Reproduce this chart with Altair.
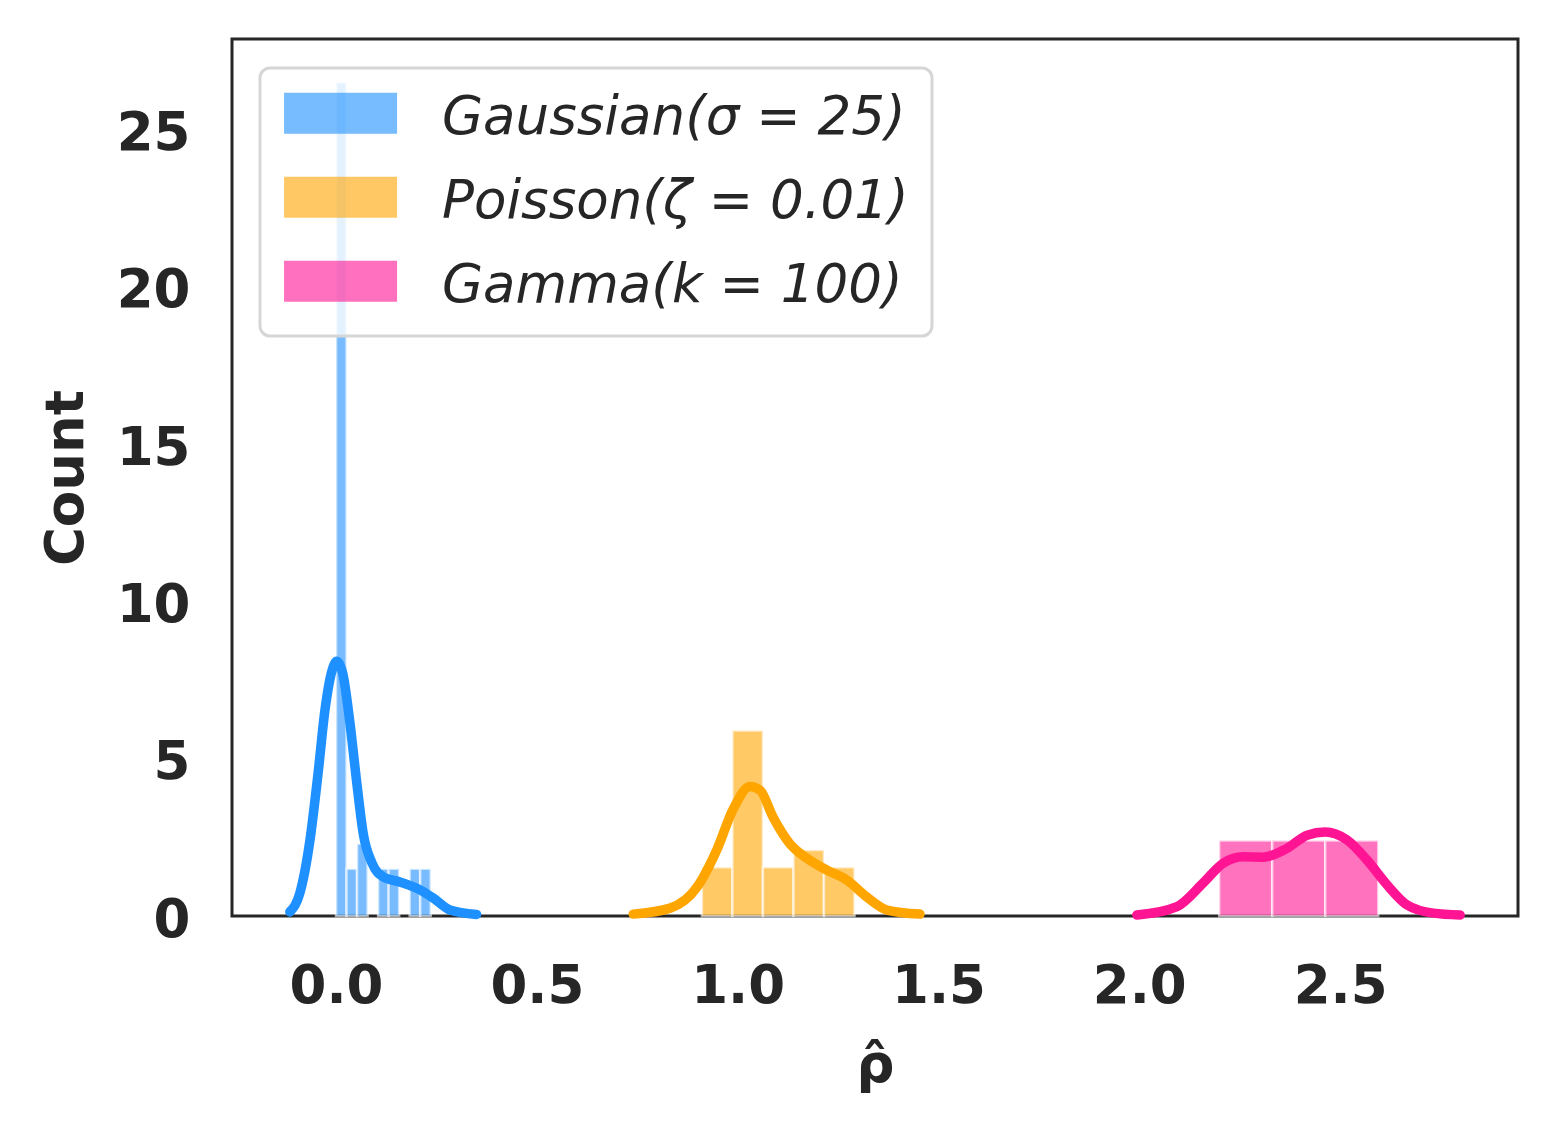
import altair as alt
import pandas as pd

series_names = ["Gaussian(σ = 25)", "Poisson(ζ = 0.01)", "Gamma(k = 100)"]
series_colors = ["#1E90FF", "#FFA500", "#FF1493"]

# Histogram bins (left/right edges) and counts
gauss_lo = [0.0, 0.0262, 0.0524, 0.0786, 0.1048, 0.1310, 0.1572, 0.1834, 0.2096]
gauss_hi = [0.0262, 0.0524, 0.0786, 0.1048, 0.1310, 0.1572, 0.1834, 0.2096, 0.2358]
gauss_cnt = [26.5, 1.5, 2.3, 0.0, 1.5, 1.5, 0.0, 1.5, 1.5]

pois_lo = [0.911, 0.987, 1.063, 1.139, 1.215]
pois_hi = [0.987, 1.063, 1.139, 1.215, 1.291]
pois_cnt = [1.55, 5.9, 1.55, 2.1, 1.55]

gamma_lo = [2.199, 2.331, 2.463]
gamma_hi = [2.331, 2.463, 2.595]
gamma_cnt = [2.4, 2.4, 2.4]

# KDE curves
gauss_kx = [-0.115, -0.09, -0.065, -0.045, -0.027, -0.01, 0.002, 0.017, 0.035, 0.052,
            0.068, 0.089, 0.118, 0.159, 0.209, 0.242, 0.284, 0.35]
gauss_ky = [0.13, 0.73, 2.4, 4.5, 6.6, 7.8, 8.1, 7.7, 6.1, 4.2,
            2.6, 1.7, 1.24, 1.08, 0.83, 0.57, 0.19, 0.05]

pois_kx = [0.74, 0.832, 0.899, 0.948, 0.989, 1.031, 1.056, 1.088, 1.130, 1.172,
           1.222, 1.272, 1.322, 1.372, 1.454]
pois_ky = [0.06, 0.25, 0.92, 2.1, 3.4, 4.12, 4.0, 3.15, 2.3, 1.84,
           1.46, 1.14, 0.6, 0.19, 0.06]

gamma_kx = [1.994, 2.094, 2.159, 2.209, 2.259, 2.309, 2.368, 2.418, 2.463, 2.517,
            2.567, 2.617, 2.667, 2.732, 2.799]
gamma_ky = [0.03, 0.3, 1.05, 1.68, 1.88, 1.87, 2.15, 2.57, 2.67, 2.42,
            1.78, 0.99, 0.35, 0.09, 0.03]

x_ticks = [0.0, 0.5, 1.0, 1.5, 2.0, 2.5]
y_ticks = [0, 5, 10, 15, 20, 25]
x_domain = [-0.259, 2.943]
y_domain = [0, 27.88]

bars = []
for name, lo, hi, cnt in zip(series_names, [gauss_lo, pois_lo, gamma_lo],
                             [gauss_hi, pois_hi, gamma_hi], [gauss_cnt, pois_cnt, gamma_cnt]):
    for a, b, c in zip(lo, hi, cnt):
        if c > 0:
            bars.append({"series": name, "x0": a, "x1": b, "count": c})
bars_df = pd.DataFrame(bars)

kde = []
for name, xs, ys in zip(series_names, [gauss_kx, pois_kx, gamma_kx], [gauss_ky, pois_ky, gamma_ky]):
    for i, (a, b) in enumerate(zip(xs, ys)):
        kde.append({"series": name, "x": a, "y": b, "order": i})
kde_df = pd.DataFrame(kde)

xscale = alt.Scale(domain=x_domain, nice=False, zero=False)
yscale = alt.Scale(domain=y_domain, nice=False, zero=False)
cscale = alt.Scale(domain=series_names, range=series_colors)

legend = alt.Legend(
    title=None, orient="none", legendX=28, legendY=29,
    padding=23, fillColor="rgba(255,255,255,0.8)", strokeColor="#d6d6d6",
    cornerRadius=10, labelFont="DejaVu Sans", labelFontSize=53,
    labelFontStyle="italic", labelColor="#262626", labelLimit=2000,
    labelOffset=106, rowPadding=27,
    symbolType="M-1.26,-1.22L4.53,-1.22L4.53,0.78L-1.26,0.78Z", symbolSize=1444,
    symbolOpacity=0.6, symbolStrokeColor="white", symbolStrokeWidth=3,
)

bar_layer = alt.Chart(bars_df).mark_rect(
    fillOpacity=0.6, stroke="white", strokeOpacity=0.6, strokeWidth=2.5
).encode(
    x=alt.X("x0:Q", scale=xscale, axis=alt.Axis(values=x_ticks, format=".1f", title="ρ̂",
                                                 labelPadding=44, titlePadding=26)),
    x2="x1:Q",
    y=alt.Y("count:Q", scale=yscale, axis=alt.Axis(values=y_ticks, title="Count",
                                                    labelPadding=42, titlePadding=23,
                                                    labelOffset=4)),
    y2=alt.datum(0),
    color=alt.Color("series:N", scale=cscale, legend=legend, sort=series_names),
)

line_layer = alt.Chart(kde_df).mark_line(
    strokeWidth=9.5, interpolate="monotone", strokeCap="round", strokeJoin="round"
).encode(
    x=alt.X("x:Q", scale=xscale),
    y=alt.Y("y:Q", scale=yscale),
    stroke=alt.Stroke("series:N", scale=alt.Scale(domain=series_names, range=series_colors),
                      legend=None),
    detail="series:N",
    order="order:Q",
)

chart = alt.layer(bar_layer, line_layer).properties(
    width=1286, height=877,
    autosize=alt.AutoSizeParams(type="none"),
    padding={"left": 224, "top": 31, "right": 20, "bottom": 200},
    background="white",
).configure_view(
    stroke="#262626", strokeWidth=3
).configure_axis(
    domain=False, ticks=False, grid=False,
    labelFont="DejaVu Sans", labelFontWeight="bold", labelFontSize=53, labelColor="#262626",
    titleFont="DejaVu Sans", titleFontWeight="bold", titleFontSize=53, titleColor="#262626",
    labelOverlap=False, labelFlush=False,
).configure_legend(
    strokeWidth=3
)

chart.save("out.html", embed_options={"renderer": "svg", "actions": False})
